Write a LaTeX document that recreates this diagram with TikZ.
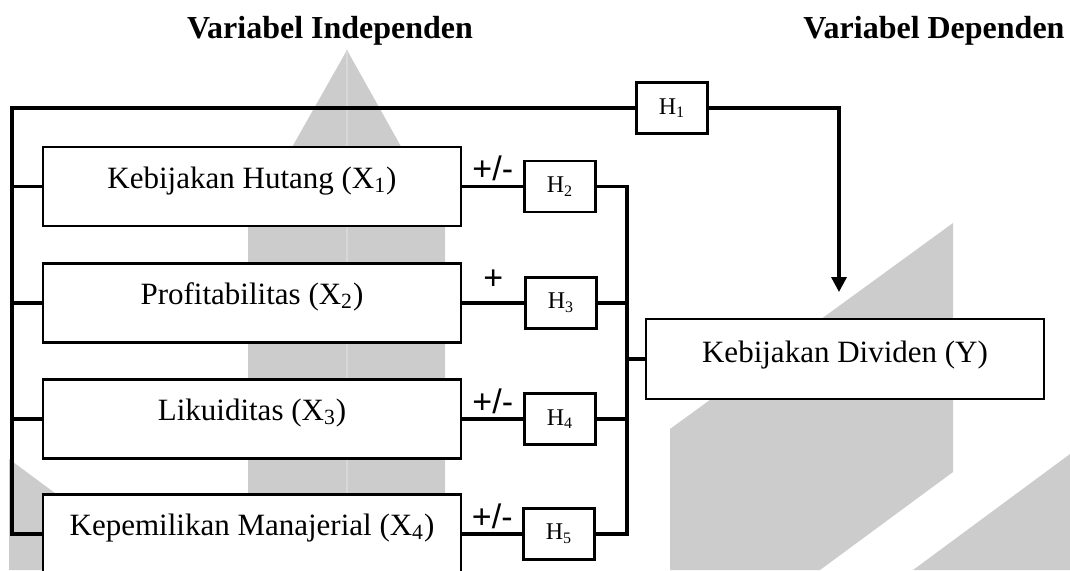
\documentclass[tikz,border=0pt]{standalone}
\usepackage{fontspec}
\setmainfont{Liberation Serif}
\newfontfamily\pmfont{Liberation Sans}
\usetikzlibrary{arrows.meta,calc}
\definecolor{wm}{RGB}{204,204,204}
\definecolor{wmline}{RGB}{216,216,216}

\begin{document}
\begin{tikzpicture}[
        x={(0.5pt,0pt)}, y={(0pt,-0.5pt)},
        xbox/.style={shape=rectangle, draw, fill=white, line width=1.2pt, minimum width=209pt, inner sep=0pt, text height=20.5pt, text depth=19pt, font=\fontsize{15.5}{18}\selectfont},
        ybox/.style={xbox, minimum width=199pt, text height=21.5pt, text depth=18.5pt},
        hbox/.style={shape=rectangle, draw, fill=white, line width=1.2pt, minimum width=35.5pt, minimum height=25.5pt, inner sep=0pt, font=\fontsize{12}{14}\selectfont},
        title/.style={anchor=base, font=\fontsize{16}{19}\selectfont\bfseries},
        conn/.style={line width=1.7pt},
        route/.style={conn, -{Triangle[length=7.5pt, width=7.5pt]}},
        pm/.style={midway, anchor=base, inner sep=0pt, yshift=#1, font=\pmfont\fontsize{17}{20}\selectfont},
        pm/.default=3pt,
        ]
        \useasboundingbox (0,0) rectangle (1070,570);
        \clip (0,0) rectangle (1070,570);
        % watermark
        \fill[wm] (347,50) -- (445,225) -- (445,570) -- (248,570) -- (248,225) -- cycle;
        \draw[wmline, line width=0.6pt] (347,50) -- (347,570);
        \fill[wm] (9,459) -- (90,519) -- (90,570) -- (9,570) -- cycle;
        \fill[wm] (670,429) -- (953,223) -- (953,472) -- (820,570) -- (670,570) -- cycle;
        \fill[wm] (913,570) -- (1070,454) -- (1070,570) -- cycle;

        \node(indep)[title] at (330,38) {Variabel Independen};
        \node(dep)  [title] at (934,38) {Variabel Dependen};

        \node(x1)[xbox] at (252,186.5) {Kebijakan Hutang (X\textsubscript{1})};
        \node(x2)[xbox] at (252,303)   {Profitabilitas (X\textsubscript{2})};
        \node(x3)[xbox] at (252,419)   {Likuiditas (X\textsubscript{3})};
        \node(x4)[xbox] at (252,534)   {Kepemilikan Manajerial (X\textsubscript{4})};
        \node(y) [ybox] at (845,359)   {Kebijakan Dividen (Y)};

        \node(h1)[hbox] at (672,108)   {H\textsubscript{1}};
        \node(h2)[hbox] at (560,186.5) {H\textsubscript{2}};
        \node(h3)[hbox] at (561,303)   {H\textsubscript{3}};
        \node(h4)[hbox] at (560,419)   {H\textsubscript{4}};
        \node(h5)[hbox] at (559,534)   {H\textsubscript{5}};

        \coordinate(lbus) at (12,108);
        \coordinate(rbus) at (627,186.5);
        \coordinate(tip)  at (839,292);

        \draw[conn] (h1.west) -- (lbus) |- (x4.west);
        \foreach \i in {1,2,3}
          \draw[conn] (lbus |- x\i.west) -- (x\i.west);
        \draw[route] (h1.east) -| (tip);

        \draw[conn] (x1.east) -- node[pm]{+/-} (h2.west);
        \draw[conn] (x2.east) -- node[pm=7pt]{+} (h3.west);
        \draw[conn] (x3.east) -- node[pm]{+/-} (h4.west);
        \draw[conn] (x4.east) -- node[pm]{+/-} (h5.west);

        \draw[conn] (h2.east) -- (rbus) |- (h5.east);
        \draw[conn] (h3.east) -- (h3.east -| rbus);
        \draw[conn] (h4.east) -- (h4.east -| rbus);
        \draw[conn] (rbus |- y.west) -- (y.west);
\end{tikzpicture}
\end{document}
